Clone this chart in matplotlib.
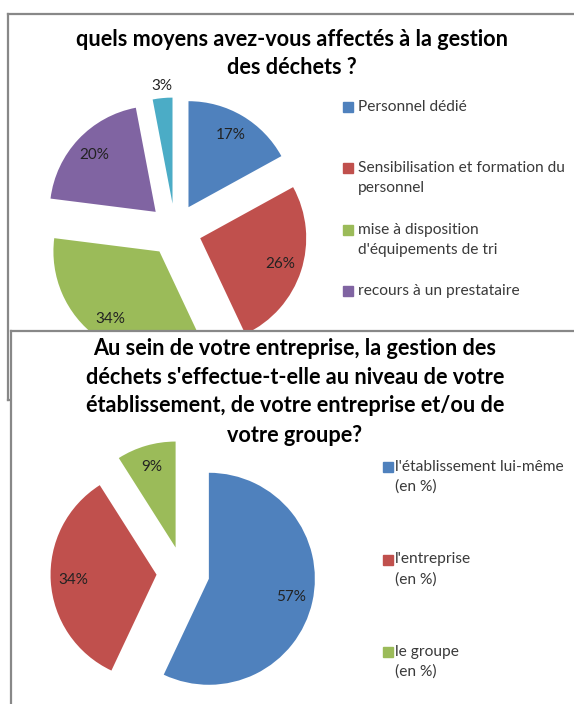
import matplotlib
matplotlib.use("Agg")
import matplotlib.pyplot as plt
from matplotlib.patches import Rectangle
import numpy as np

# ---------------- data ----------------
title_top = "quels moyens avez-vous affectés à la gestion\ndes déchets ?"
labels_top = ["Personnel dédié",
              "Sensibilisation et formation du\npersonnel",
              "mise à disposition\nd'équipements de tri",
              "recours à un prestataire"]
values_top = [17, 26, 34, 20, 3]
colors_top = ["#4F81BD", "#C0504D", "#9BBB59", "#8064A2", "#4BACC6"]

title_bot = ("Au sein de votre entreprise, la gestion des\n"
             "déchets s'effectue-t-elle au niveau de votre\n"
             "établissement, de votre entreprise et/ou de\n"
             "votre groupe?")
labels_bot = ["l'établissement lui-même\n(en %)",
              "l'entreprise\n(en %)",
              "le groupe\n(en %)"]
values_bot = [57, 34, 9]
colors_bot = ["#4F81BD", "#C0504D", "#9BBB59"]

# ---------------- layout helpers ----------------
W, H, DPI = 574, 704, 100
fig = plt.figure(figsize=(W / DPI, H / DPI), dpi=DPI)
fig.patch.set_facecolor("white")

FONT = "Lato"
FRAME = "#888888"
TXT = "#3a3a3a"


def fx(x):
    return x / W


def fy(y):
    return 1 - y / H


def frame_axes(x0, y0, x1, y1, z):
    ax = fig.add_axes([fx(x0), fy(y1), (x1 - x0) / W, (y1 - y0) / H])
    ax.set_zorder(z)
    ax.set_facecolor("white")
    ax.set_xticks([])
    ax.set_yticks([])
    for s in ax.spines.values():
        s.set_color(FRAME)
        s.set_linewidth(1.6)
    return ax


def pie_axes(cx, cy, R, z, values, colors, explode, pctd):
    s = 1.45
    ax = fig.add_axes([fx(cx - R * s), fy(cy + R * s), 2 * R * s / W, 2 * R * s / H])
    ax.set_zorder(z)
    ax.patch.set_alpha(0)
    wedges, _, autot = ax.pie(values, colors=colors, startangle=90,
                              counterclock=False, explode=[explode] * len(values),
                              autopct="%1.0f%%", pctdistance=pctd,
                              wedgeprops=dict(linewidth=0),
                              textprops=dict(fontsize=11, family=FONT, color="#222222"))
    ax.set_xlim(-s, s)
    ax.set_ylim(-s, s)
    ax.axis("off")
    return ax, wedges, autot


def draw_title(ax, text, cx, y0, step, size):
    for i, line in enumerate(text.split("\n")):
        ax.text(fx(cx), fy(y0 + i * step), line, transform=fig.transFigure,
                ha="center", va="center", fontsize=size, fontweight="bold",
                family=FONT, color="black")


def draw_legend(ax, labels, colors, xsq, xt, y0, step, size):
    for i, lab in enumerate(labels):
        y = y0 + i * step
        ax.add_patch(Rectangle((fx(xsq), fy(y + 5)), 10 / W, 10 / H,
                               transform=fig.transFigure, color=colors[i],
                               clip_on=False))
        for j, line in enumerate(lab.split("\n")):
            ax.text(fx(xt), fy(y + j * 20), line, transform=fig.transFigure,
                    ha="left", va="center", fontsize=size, family=FONT, color=TXT)


# ---------------- top chart ----------------
ax_tf = frame_axes(7.5, 14, 620, 400, 0)
draw_title(ax_tf, title_top, 292, 40, 28, 15.6)
draw_legend(ax_tf, labels_top, colors_top, 343, 358, 107, 61.3, 11.2)

ax_tp, w_top, t_top = pie_axes(175, 230, 106, 1, values_top, colors_top, 0.25, 0.79)
# small last slice: label placed just outside the wedge
w = w_top[-1]
mid = np.deg2rad((w.theta1 + w.theta2) / 2)
t_top[-1].set_position((w.center[0] + 1.11 * np.cos(mid), w.center[1] + 1.11 * np.sin(mid)))

# ---------------- bottom chart ----------------
ax_bf = frame_axes(11, 331, 620, 760, 2)
draw_title(ax_bf, title_bot, 295, 348, 29, 15.6)
draw_legend(ax_bf, labels_bot, colors_bot, 383, 395, 467, 92.5, 11.2)

ax_bp, w_bot, t_bot = pie_axes(183, 573, 106, 3, values_bot, colors_bot, 0.25, 0.79)

fig.savefig("out.png", dpi=DPI, facecolor="white")
